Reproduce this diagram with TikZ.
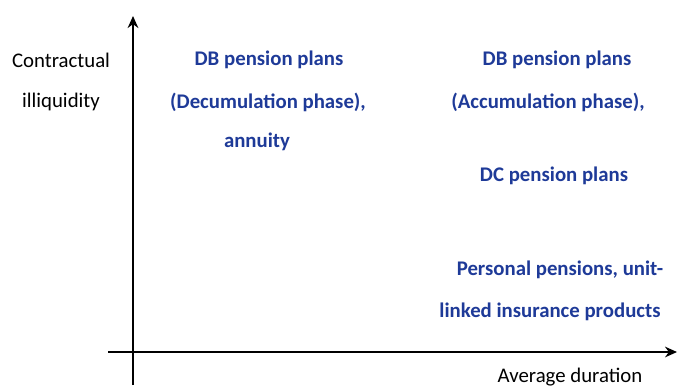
\documentclass[tikz,border=0pt]{standalone}
\usepackage{fontspec}
\setmainfont{Carlito}
\usetikzlibrary{arrows.meta}
\definecolor{planblue}{RGB}{30,58,152}
\tikzset{
  axis/.style={line width=1.3pt,-{Stealth[length=9pt,width=8pt]}},
  lbl/.style={font=\fontsize{15.6}{18}\selectfont,inner sep=0pt},
  plan/.style={lbl,text=planblue,font=\fontsize{15.6}{18}\selectfont\bfseries}
}

\begin{document}
\begin{tikzpicture}[x=0.75pt,y=-0.75pt]
                \useasboundingbox (0,0) rectangle (677,390);
                \coordinate (ybot) at (133,385);
                \coordinate (ytop) at (133,16);
                \coordinate (xleft) at (108,352);
                \coordinate (xright) at (677,352);
                \draw[axis] (ybot) -- (ytop);
                \draw[axis] (xleft) -- (xright);
                \node[lbl] (yname1) at (61,60){Contractual};
                \node[lbl] (yname2) at (61,102){illiquidity};
                \node[lbl] (xname) at (570,377){Average duration};
                \node[plan] (db1) at (269,60){DB pension plans};
                \node[plan] (db2) at (268,102){(Decumulation phase),};
                \node[plan] (db3) at (257,142){annuity};
                \node[plan] (acc1) at (557,60){DB pension plans};
                \node[plan] (acc2) at (548,102){(Accumulation phase),};
                \node[plan] (dc) at (554,176){DC pension plans};
                \node[plan] (pp1) at (560,270){Personal pensions, unit-};
                \node[plan] (pp2) at (550,312){linked insurance products};
            \end{tikzpicture}
\end{document}
